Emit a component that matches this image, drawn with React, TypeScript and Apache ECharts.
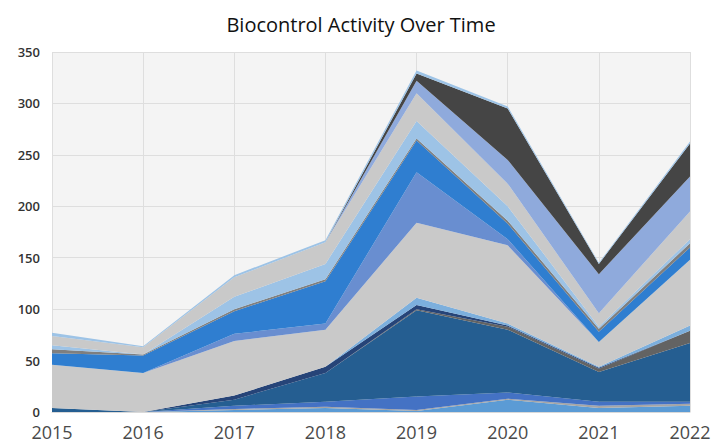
import React, { useEffect, useRef } from "react";
import * as echarts from "echarts";

const years = ["2015", "2016", "2017", "2018", "2019", "2020", "2021", "2022"];

// stacked layers, bottom to top
const s1 = [0, 0, 2, 4, 1, 12, 4, 6];
const s2 = [0, 0, 1, 1, 1, 1, 2, 2];
const s3 = [0, 0, 3, 5, 13, 6, 4, 2];
const s4 = [4, 0, 6, 28, 84, 61, 29, 57];
const s5 = [0, 0, 0, 0, 1, 3, 3, 12];
const s6 = [0, 0, 4, 6, 4, 1, 1, 0];
const s7 = [0, 0, 0, 0, 7, 2, 1, 5];
const s8 = [42, 38, 53, 36, 73, 76, 24, 64];
const s9 = [0, 0, 7, 6, 49, 6, 0, 0];
const s10 = [11, 17, 22, 41, 31, 15, 10, 12];
const s11 = [4, 1, 2, 2, 2, 3, 3, 4];
const s12 = [4, 0, 12, 15, 17, 14, 2, 4];
const s13 = [9, 7, 19, 21, 27, 22, 13, 27];
const s14 = [0, 0, 0, 0, 12, 23, 38, 34];
const s15 = [0, 0, 0, 0, 7, 50, 10, 32];
const s16 = [3, 1, 2, 2, 3, 2, 1, 2];

const layers = [s1, s2, s3, s4, s5, s6, s7, s8, s9, s10, s11, s12, s13, s14, s15, s16];
const colors = [
  "#5b9bd5", "#a5a5a5", "#4472c4", "#255e91", "#636363", "#264478", "#7cafdd", "#c9c9c9",
  "#698ed0", "#2f7ed0", "#7f7f7f", "#9dc3e6", "#c9c9c9", "#8faadc", "#454545", "#9dc3e6",
];

const yTicks = [0, 50, 100, 150, 200, 250, 300, 350];

export default function App() {
  const ref = useRef<HTMLDivElement>(null);
  useEffect(() => {
    if (!ref.current) return;
    const chart = echarts.init(ref.current, undefined, { renderer: "svg" });
    chart.setOption({
      animation: false,
      backgroundColor: "#ffffff",
      title: {
        text: "Biocontrol Activity Over Time",
        left: "center",
        top: 9,
        textStyle: { fontFamily: "Open Sans", fontSize: 20, fontWeight: "normal", color: "#111" },
      },
      grid: {
        left: 52,
        right: 32,
        top: 52,
        bottom: 34,
        show: true,
        backgroundColor: "#f4f4f4",
        borderWidth: 0,
      },
      xAxis: {
        type: "category",
        data: years,
        boundaryGap: false,
        axisLine: { show: true, lineStyle: { color: "#d9d9d9" } },
        axisTick: { show: false },
        axisLabel: { fontFamily: "Open Sans", fontSize: 18, color: "#4a4a4a", margin: 11 },
        splitLine: { show: true, lineStyle: { color: "#dedede" } },
      },
      yAxis: {
        type: "value",
        min: yTicks[0],
        max: yTicks[yTicks.length - 1],
        interval: 50,
        axisLine: { show: false },
        axisTick: { show: false },
        axisLabel: { fontFamily: "Open Sans", fontSize: 13, fontWeight: 600, color: "#333", margin: 12 },
        splitLine: { show: true, lineStyle: { color: "#dedede" } },
      },
      series: layers.map((d, i) => ({
        type: "line",
        stack: "total",
        data: d,
        symbol: "none",
        lineStyle: { width: 0 },
        areaStyle: { color: colors[i], opacity: 1 },
        itemStyle: { color: colors[i] },
      })),
    });
    return () => chart.dispose();
  }, []);
  return (
    <div style={{ position: "fixed", left: 0, top: 0 }}>
      <div ref={ref} style={{ width: 722, height: 446 }} />
    </div>
  );
}
